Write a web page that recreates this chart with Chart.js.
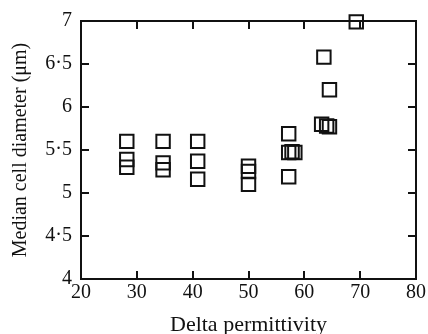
<!DOCTYPE html>
<html>
<head>
<meta charset="utf-8">
<script src="https://cdn.jsdelivr.net/npm/chart.js@4"></script>
<style>
  html, body { margin: 0; padding: 0; background: #fff; }
  #wrap { width: 428px; height: 334px; }
</style>
</head>
<body>
<div id="wrap"><canvas id="c" width="428" height="334"></canvas></div>
<script>
// Data
const permittivity = [28.2, 28.2, 28.2, 34.7, 34.7, 34.7, 40.9, 40.9, 40.9, 50.0, 50.0, 50.0, 57.2, 57.2, 57.8, 58.3, 57.2, 63.1, 64.0, 64.5, 63.5, 64.5, 69.3];
const diameter     = [5.60, 5.39, 5.30, 5.60, 5.35, 5.27, 5.60, 5.37, 5.16, 5.31, 5.25, 5.10, 5.69, 5.47, 5.48, 5.47, 5.19, 5.80, 5.78, 5.77, 6.58, 6.20, 6.99];
const xTickValues = [20, 30, 40, 50, 60, 70, 80];
const xTickLabels = ['20', '30', '40', '50', '60', '70', '80'];
const yTickValues = [4, 4.5, 5, 5.5, 6, 6.5, 7];
const yTickLabels = ['4', '4·5', '5', '5·5', '6', '6·5', '7'];
const xTitle = 'Delta permittivity';
const yTitle = 'Median cell diameter (μm)';

const INK = '#111';
const FONT = "'Liberation Serif', 'Times New Roman', serif";

const frame = {
  id: 'frame',
  afterDraw(chart) {
    const { ctx, chartArea: a, scales } = chart;
    const xs = scales.x, ys = scales.y;
    ctx.save();
    ctx.strokeStyle = INK;
    ctx.lineWidth = 2;
    ctx.strokeRect(a.left, a.top, a.right - a.left, a.bottom - a.top);
    const L = 8;
    xTickValues.forEach(v => {
      if (v <= xs.min || v >= xs.max) return;
      const px = Math.round(xs.getPixelForValue(v));
      ctx.beginPath();
      ctx.moveTo(px, a.bottom); ctx.lineTo(px, a.bottom - L);
      ctx.moveTo(px, a.top); ctx.lineTo(px, a.top + L);
      ctx.stroke();
    });
    yTickValues.forEach(v => {
      if (v <= ys.min || v >= ys.max) return;
      const py = Math.round(ys.getPixelForValue(v));
      ctx.beginPath();
      ctx.moveTo(a.left, py); ctx.lineTo(a.left + L, py);
      ctx.moveTo(a.right, py); ctx.lineTo(a.right - L, py);
      ctx.stroke();
    });
    ctx.restore();
  }
};

new Chart(document.getElementById('c'), {
  type: 'scatter',
  data: {
    datasets: [{
      data: permittivity.map((x, i) => ({ x: x, y: diameter[i] })),
      pointStyle: 'rect',
      pointRadius: 9.5,
      pointHoverRadius: 9.5,
      pointBorderWidth: 2,
      borderColor: INK,
      backgroundColor: 'rgba(0,0,0,0)',
      clip: false
    }]
  },
  plugins: [frame],
  options: {
    responsive: false,
    animation: false,
    devicePixelRatio: 1,
    layout: { padding: { top: 19, right: 12, left: 0, bottom: 0 } },
    plugins: { legend: { display: false }, tooltip: { enabled: false } },
    scales: {
      x: {
        type: 'linear',
        min: 20, max: 80,
        afterBuildTicks(s) { s.ticks = xTickValues.map(v => ({ value: v })); },
        afterFit(s) { s.height = 55; },
        grid: { display: false, drawTicks: false },
        border: { display: false },
        ticks: {
          padding: 2,
          color: INK,
          font: { family: FONT, size: 20 },
          maxRotation: 0,
          callback: (v) => xTickLabels[xTickValues.indexOf(v)]
        },
        title: {
          display: true, text: xTitle, color: INK,
          font: { family: FONT, size: 22 },
          padding: { top: 0, bottom: -4 }
        }
      },
      y: {
        type: 'linear',
        min: 4, max: 7,
        afterBuildTicks(s) { s.ticks = yTickValues.map(v => ({ value: v })); },
        afterFit(s) { s.width = 81; },
        grid: { display: false, drawTicks: false },
        border: { display: false },
        ticks: {
          padding: 9,
          color: INK,
          font: { family: FONT, size: 20 },
          callback: (v) => yTickLabels[yTickValues.indexOf(v)]
        },
        title: {
          display: true, text: yTitle, color: INK,
          font: { family: FONT, size: 20 },
          padding: { top: 9, bottom: 0 }
        }
      }
    }
  }
});
</script>
</body>
</html>
